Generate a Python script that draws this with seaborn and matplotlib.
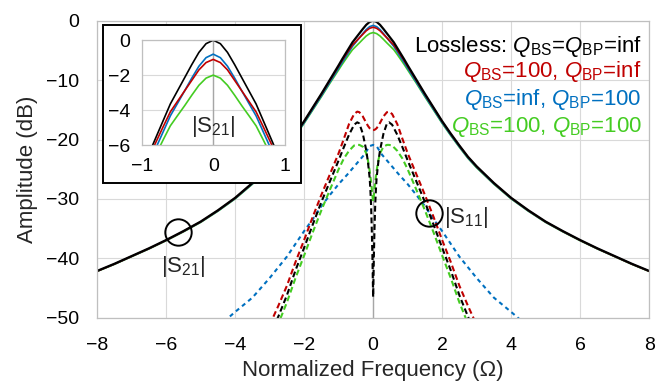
import numpy as np
import pandas as pd
import matplotlib
matplotlib.use("Agg")
import matplotlib.pyplot as plt
from matplotlib.patches import Rectangle
import seaborn as sns

# ---- data ----
# |S21| (solid lines), same frequency grid for all four cases
omega_s21 = [-8, -7.5, -7, -6.5, -6, -5.5, -5, -4.5, -4, -3.5, -3, -2.75, -2.5, -2.25, -2, -1.75, -1.5, -1.25,
             -1, -0.9, -0.8, -0.7, -0.6, -0.5, -0.4, -0.3, -0.2, -0.1,
             0, 0.1, 0.2, 0.3, 0.4, 0.5, 0.6, 0.7, 0.8, 0.9, 1,
             1.25, 1.5, 1.75, 2, 2.25, 2.5, 2.75, 3, 3.5, 4, 4.5, 5, 5.5, 6, 6.5, 7, 7.5, 8]
s21_lossless = [-42.1, -40.9, -39.6, -38.3, -36.9, -35.4, -33.8, -31.9, -29.8, -27.3, -24.5, -22.9, -21.0, -19.0, -16.9, -14.6, -12.3, -9.9,
                -7.5, -6.5, -5.55, -4.6, -3.65, -2.9, -2.15, -1.4, -0.7, -0.2,
                0.0, -0.2, -0.7, -1.4, -2.15, -2.9, -3.65, -4.6, -5.55, -6.5, -7.5,
                -9.9, -12.3, -14.6, -16.9, -19.0, -21.0, -22.9, -24.5, -27.3, -29.8, -31.9, -33.8, -35.4, -36.9, -38.3, -39.6, -40.9, -42.1]
s21_qbs100 = [-42.15, -40.95, -39.65, -38.35, -36.95, -35.45, -33.85, -31.95, -29.85, -27.35, -24.55, -22.95, -21.06, -19.06, -16.97, -14.68, -12.4, -10.03,
              -7.68, -6.72, -5.82, -4.95, -4.1, -3.5, -2.9, -2.3, -1.7, -1.28,
              -1.1, -1.28, -1.7, -2.3, -2.9, -3.5, -4.1, -4.95, -5.82, -6.72, -7.68,
              -10.03, -12.4, -14.68, -16.97, -19.06, -21.06, -22.95, -24.55, -27.35, -29.85, -31.95, -33.85, -35.45, -36.95, -38.35, -39.65, -40.95, -42.15]
s21_qbp100 = [-42.16, -40.97, -39.67, -38.38, -36.98, -35.49, -33.9, -32.02, -29.93, -27.45, -24.68, -23.1, -21.22, -19.25, -17.18, -14.92, -12.66, -10.32,
              -8.0, -7.05, -6.15, -5.24, -4.33, -3.62, -2.9, -2.17, -1.49, -1.0,
              -0.8, -1.0, -1.49, -2.17, -2.9, -3.62, -4.33, -5.24, -6.15, -7.05, -8.0,
              -10.32, -12.66, -14.92, -17.18, -19.25, -21.22, -23.1, -24.68, -27.45, -29.93, -32.02, -33.9, -35.49, -36.98, -38.38, -39.67, -40.97, -42.16]
s21_both100 = [-42.19, -41.0, -39.7, -38.41, -37.02, -35.53, -33.94, -32.06, -29.98, -27.51, -24.75, -23.17, -21.3, -19.33, -17.27, -15.03, -12.8, -10.5,
               -8.28, -7.38, -6.53, -5.7, -4.9, -4.32, -3.75, -3.15, -2.58, -2.17,
               -2.0, -2.17, -2.58, -3.15, -3.75, -4.32, -4.9, -5.7, -6.53, -7.38, -8.28,
               -10.5, -12.8, -15.03, -17.27, -19.33, -21.3, -23.17, -24.75, -27.51, -29.98, -32.06, -33.94, -35.53, -37.02, -38.41, -39.7, -41.0, -42.19]

# |S11| (dashed lines)
omega_s11 = [-3, -2.75, -2.5, -2.25, -2, -1.75, -1.5, -1.25, -1, -0.85, -0.7, -0.55, -0.46, -0.4, -0.3, -0.2, -0.15, -0.1, -0.08, -0.06, -0.04, -0.02, -0.01,
             0, 0.01, 0.02, 0.04, 0.06, 0.08, 0.1, 0.15, 0.2, 0.3, 0.4, 0.46, 0.55, 0.7, 0.85, 1, 1.25, 1.5, 1.75, 2, 2.25, 2.5, 2.75, 3]
s11_lossless = [-53.2, -49.8, -46.2, -42.0, -38.2, -34.3, -30.5, -27.0, -23.5, -21.3, -19.2, -17.5, -17.1, -17.3, -19.0, -21.8, -23.8, -26.5, -28.5, -31.0, -35.0, -40.0, -43.5,
                -46.5, -43.5, -40.0, -35.0, -31.0, -28.5, -26.5, -23.8, -21.8, -19.0, -17.3, -17.1, -17.5, -19.2, -21.3, -23.5, -27.0, -30.5, -34.3, -38.2, -42.0, -46.2, -49.8, -53.2]
s11_qbs100 = [-51.2, -48.0, -44.6, -40.6, -36.9, -33.0, -29.3, -25.8, -22.3, -19.9, -17.4, -15.7, -15.3, -15.4, -16.1, -17.2, -17.7, -18.1, -18.2, -18.3, -18.35, -18.4, -18.4,
              -18.4, -18.4, -18.4, -18.35, -18.3, -18.2, -18.1, -17.7, -17.2, -16.1, -15.4, -15.3, -15.7, -17.4, -19.9, -22.3, -25.8, -29.3, -33.0, -36.9, -40.6, -44.6, -48.0, -51.2]
s11_both100 = [-54.3, -51.0, -47.4, -43.3, -39.5, -35.6, -31.9, -28.4, -25.0, -23.2, -21.9, -21.0, -20.9, -20.9, -21.2, -22.3, -23.5, -25.3, -26.2, -27.1, -28.2, -29.5, -30.0,
               -30.4, -30.0, -29.5, -28.2, -27.1, -26.2, -25.3, -23.5, -22.3, -21.2, -20.9, -20.9, -21.0, -21.9, -23.2, -25.0, -28.4, -31.9, -35.6, -39.5, -43.3, -47.4, -51.0, -54.3]
omega_s11_qbp = [-4.5, -4, -3.5, -3, -2.5, -2, -1.75, -1.5, -1.25, -1, -0.75, -0.5, -0.25, -0.1, 0, 0.1, 0.25, 0.5, 0.75, 1, 1.25, 1.5, 1.75, 2, 2.5, 3, 3.5, 4, 4.5]
s11_qbp100 = [-51.5, -49.0, -46.6, -43.3, -39.7, -35.4, -33.4, -31.2, -29.3, -27.5, -25.9, -24.2, -22.5, -21.1, -20.9, -21.1, -22.5, -24.2, -25.9, -27.5, -29.3, -31.2, -33.4, -35.4, -39.7, -43.3, -46.6, -49.0, -51.5]

case_labels = [r"Lossless: $Q_{\mathrm{BS}}$=$Q_{\mathrm{BP}}$=inf",
               r"$Q_{\mathrm{BS}}$=100, $Q_{\mathrm{BP}}$=inf",
               r"$Q_{\mathrm{BS}}$=inf, $Q_{\mathrm{BP}}$=100",
               r"$Q_{\mathrm{BS}}$=100, $Q_{\mathrm{BP}}$=100"]
case_colors = ["#000000", "#c00000", "#0070c0", "#44cc22"]

x_ticks = [-8, -6, -4, -2, 0, 2, 4, 6, 8]
y_ticks = [-50, -40, -30, -20, -10, 0]
inset_x_ticks = [-1, 0, 1]
inset_y_ticks = [-6, -4, -2, 0]

# ---- style ----
sns.set_theme(style="white")
plt.rcParams["font.family"] = ["Liberation Sans", "DejaVu Sans"]
plt.rcParams["mathtext.fontset"] = "custom"
plt.rcParams["mathtext.rm"] = "Liberation Sans"
plt.rcParams["mathtext.it"] = "Liberation Sans:italic"

grid_c = "#d9d9d9"
frame_c = "#bfbfbf"

s21_sets = [s21_lossless, s21_qbs100, s21_qbp100, s21_both100]
s11_sets = [(omega_s11, s11_lossless), (omega_s11, s11_qbs100), (omega_s11_qbp, s11_qbp100), (omega_s11, s11_both100)]

fig = plt.figure(figsize=(6.61, 3.90), dpi=100)
ax = fig.add_axes([0.147, 0.185, 0.835, 0.762])


def style_axes(a, xt, yt, size, xpad, ypad):
    a.set_xticks(xt)
    a.set_yticks(yt)
    a.grid(True, color=grid_c, lw=0.8)
    a.set_axisbelow(True)
    for s in a.spines.values():
        s.set_color(frame_c)
        s.set_linewidth(0.9)
    a.tick_params(length=0, labelsize=size, colors="black")
    a.tick_params(axis="x", pad=xpad)
    a.tick_params(axis="y", pad=ypad)
    a.axvline(0, color="#a6a6a6", lw=1.0, zorder=1)


# dashed |S11|
s11_order = [2, 3, 0, 1]
s11_dash = {0: (2.8, 1.6), 1: (2.8, 1.6), 2: (2.0, 1.8), 3: (2.8, 1.6)}
for i in s11_order:
    om, vals = s11_sets[i]
    df = pd.DataFrame({"omega": om, "dB": vals})
    sns.lineplot(data=df, x="omega", y="dB", ax=ax, color=case_colors[i], lw=1.5,
                 sort=False, estimator=None, linestyle=(0, s11_dash[i]))

# solid |S21|
for i in [3, 2, 1, 0]:
    df = pd.DataFrame({"omega": omega_s21, "dB": s21_sets[i]})
    sns.lineplot(data=df, x="omega", y="dB", ax=ax, color=case_colors[i],
                 lw=1.6 if i == 0 else 1.2, sort=False, estimator=None)

ax.set_xlim(-8, 8)
ax.set_ylim(-50, 0)
style_axes(ax, x_ticks, y_ticks, 14, 14, 13)
ax.set_xlabel("Normalized Frequency (Ω)", fontsize=16, labelpad=4)
ax.set_ylabel("Amplitude (dB)", fontsize=16, labelpad=6)

# circles + labels
ax.plot([-5.65], [-35.6], marker="o", ms=19, mfc="none", mec="black", mew=1.4, ls="none", zorder=5)
ax.plot([1.61], [-32.4], marker="o", ms=19, mfc="none", mec="black", mew=1.4, ls="none", zorder=5)
ax.text(-5.5, -41.4, r"|S$_{\mathrm{21}}$|", fontsize=16, ha="center", va="center")
ax.text(2.05, -33.2, r"|S$_{\mathrm{11}}$|", fontsize=16, ha="left", va="center")

# legend text (right aligned, coloured)
label_y = [0.867, 0.802, 0.731, 0.662]
for lab, col, yy in zip(case_labels, case_colors, label_y):
    fig.text(0.971, yy, lab, color=col, fontsize=16, ha="right", va="baseline")

# inset
fig.add_artist(Rectangle((0.156, 0.531), 0.2995, 0.405, transform=fig.transFigure,
                         facecolor="white", edgecolor="black", lw=1.4, zorder=3))
axi = fig.add_axes([0.2144, 0.628, 0.2163, 0.269], zorder=4)
for i in [3, 2, 1, 0]:
    df = pd.DataFrame({"omega": omega_s21, "dB": s21_sets[i]})
    sns.lineplot(data=df, x="omega", y="dB", ax=axi, color=case_colors[i], lw=1.2,
                 sort=False, estimator=None)
axi.set_xlim(-1, 1)
axi.set_ylim(-6, 0)
style_axes(axi, inset_x_ticks, inset_y_ticks, 14, 9, 8)
axi.set_xlabel("")
axi.set_ylabel("")
axi.text(0, -4.95, r"|S$_{\mathrm{21}}$|", fontsize=16, ha="center", va="center")

fig.savefig("out.png", dpi=100)
